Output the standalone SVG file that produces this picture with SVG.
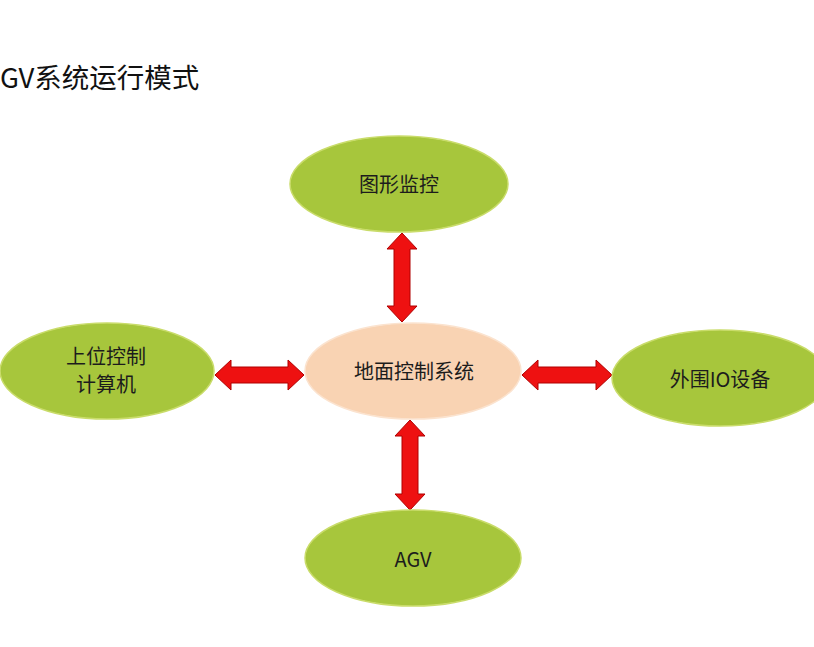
<svg xmlns="http://www.w3.org/2000/svg" width="814" height="647" viewBox="0 0 814 647">
<style>
.g{fill:#a7c63c;stroke:#c9dc6a;stroke-width:1.5}
.c{fill:#f9d3b3;stroke:#fbe3cf;stroke-width:1.5}
.t{font-family:"Noto Sans CJK SC","Liberation Sans",sans-serif;font-size:20px;fill:#1c1c1c;text-anchor:middle}
.a{fill:#ee1111;stroke:#b00000;stroke-width:1;stroke-linejoin:miter}
</style>
<rect width="814" height="647" fill="#ffffff"/>
<text x="0" y="88" font-family="'Noto Sans CJK SC','Liberation Sans',sans-serif" font-size="27.5" fill="#111">GV系统运行模式</text>
<g id="connectors">
<polygon class="a" points="402,233 417,249 410,249 410,306 417,306 402,322 387,306 394,306 394,249 387,249"/>
<polygon class="a" points="410,420 425,436 418,436 418,494 425,494 410,510 395,494 402,494 402,436 395,436"/>
<polygon class="a" points="215,375 231,360 231,367 288,367 288,360 304,375 288,390 288,383 231,383 231,390"/>
<polygon class="a" points="522,375 538,360 538,367 596,367 596,360 612,375 596,390 596,383 538,383 538,390"/>
</g>
<g id="n-top"><ellipse class="g" cx="399" cy="184" rx="109" ry="48"/><text class="t" x="399" y="192">图形监控</text></g>
<g id="n-center"><ellipse class="c" cx="413" cy="371" rx="108" ry="48"/><text class="t" x="414" y="379">地面控制系统</text></g>
<g id="n-left"><ellipse class="g" cx="107" cy="371" rx="107" ry="48"/><text class="t" x="106" y="364" font-size="19">上位控制</text><text class="t" x="106" y="392" font-size="19">计算机</text></g>
<g id="n-right"><ellipse class="g" cx="720" cy="378" rx="108" ry="48"/><text class="t" x="720" y="387">外围IO设备</text></g>
<g id="n-bottom"><ellipse class="g" cx="413" cy="558" rx="108" ry="48"/><text class="t" x="413" y="567" font-family="'Liberation Sans',sans-serif" font-size="19">AGV</text></g>
</svg>
